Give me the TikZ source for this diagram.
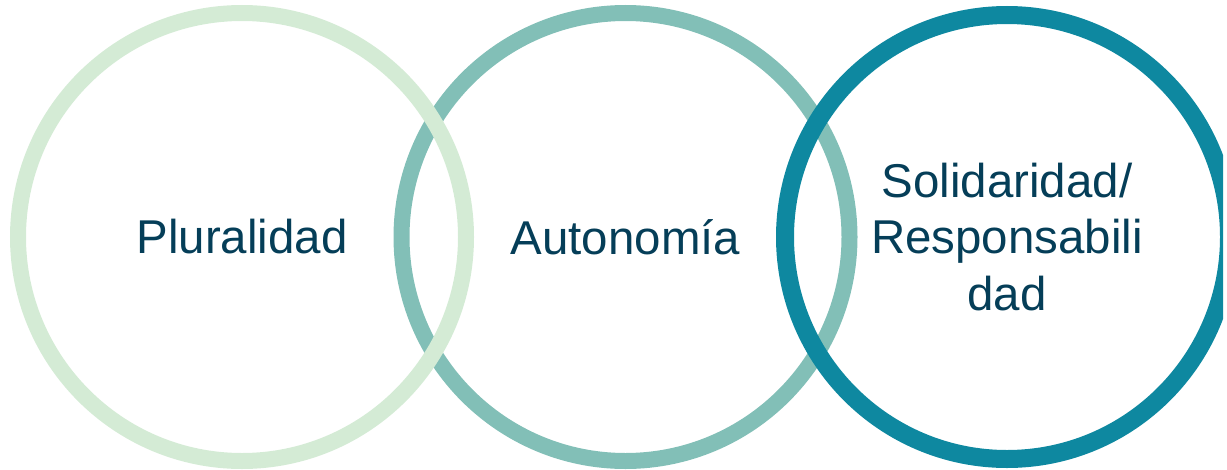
\documentclass[tikz,border=0pt]{standalone}
\usepackage{fontspec}
\setmainfont{Liberation Sans}
\usetikzlibrary{positioning}
\definecolor{ringlight}{RGB}{212,235,213}
\definecolor{ringmid}{RGB}{130,191,183}
\definecolor{ringdark}{RGB}{14,136,160}
\definecolor{labeltext}{RGB}{5,62,88}
\begin{document}
\begin{tikzpicture}[
  ring/.style={circle, draw, line width=0.32cm, minimum size=8.96cm, inner sep=0pt,
    align=center, text=labeltext, font=\fontsize{27}{32.4}\selectfont},
  node distance=7.67cm
]
\useasboundingbox (0,0) rectangle (24.54,-9.38);
\clip (0,0) rectangle (24.46,-9.38);
\node[ring, draw=ringmid] (auto) at (12.51,-4.74) {Autonom\'ia};
\node[ring, draw=ringlight, left of=auto] (plural) {Pluralidad};
\node[ring, draw=ringdark, line width=0.36cm, minimum size=8.88cm, right of=auto, node distance=7.63cm] (solid) {Solidaridad/\\Responsabili\\dad};
\end{tikzpicture}
\end{document}
